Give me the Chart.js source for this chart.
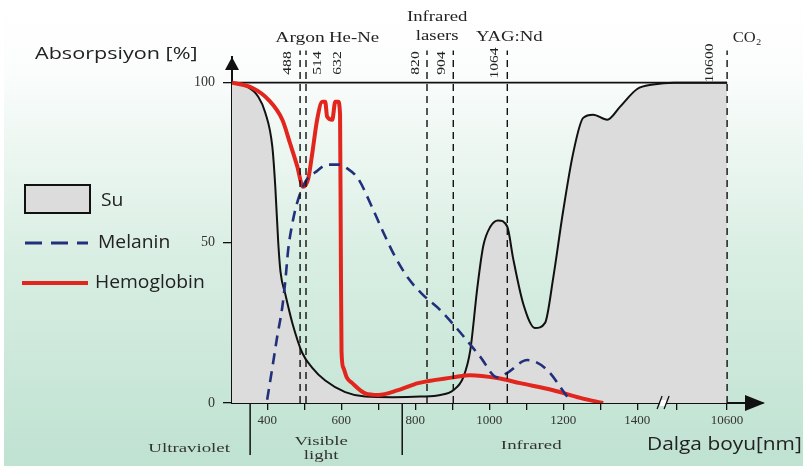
<!DOCTYPE html>
<html>
<head>
<meta charset="utf-8">
<script src="https://cdn.jsdelivr.net/npm/chart.js@4"></script>
<style>
  html, body { margin: 0; padding: 0; background: #fff; }
  #kutu { width: 803px; height: 473px; }
</style>
</head>
<body>
<div id="kutu"><canvas id="absorpsiyon"></canvas></div>
<script>
// dalga boyu [nm] / absorpsiyon [%]
const suNm = [305, 341, 376, 395, 414, 422, 430, 436, 449, 468, 495, 522, 557, 611, 665, 740, 814, 868, 903, 930, 949, 968, 984, 1003, 1024, 1049, 1065, 1092, 1124, 1151, 1173, 1200, 1227, 1254, 1281, 1319, 1354, 1400, 1443, 1500, 10600];
const suAbs = [100, 99, 95.6, 90.6, 80, 67.5, 50, 41, 34, 25, 15.6, 11, 7, 3.4, 2, 1.8, 2, 2.5, 4, 8, 16.5, 36, 49, 55, 57, 55, 45, 31, 23.4, 25, 39, 60, 78, 89, 90, 88.4, 92.5, 98, 99.4, 100, 100];

const melaninNm = [400, 414, 427, 441, 449, 457, 468, 481, 503, 530, 565, 592, 619, 646, 684, 711, 746, 781, 819, 868, 922, 976, 1022, 1049, 1103, 1157, 1211, 1219];
const melaninAbs = [1, 11, 20.6, 30, 38, 48, 56, 62.5, 69, 72, 74.4, 74.4, 73, 70, 61, 54, 45.6, 39, 34, 29, 22, 14.4, 8, 9.4, 13.4, 10.3, 2, 1];

const hemoglobinNm = [305, 359, 403, 441, 462, 481, 497, 511, 522, 535, 549, 557, 562, 576, 584, 592, 597, 599, 601, 606, 615, 630, 665, 700, 754, 808, 903, 949, 1022, 1084, 1173, 1246, 1308];
const hemoglobinAbs = [100, 98.4, 94.7, 88.4, 81, 74, 67.5, 70, 78, 88.4, 94, 94, 89.4, 88.4, 94, 94, 90, 50, 16, 11, 8, 6.2, 3, 2.5, 4, 6.2, 8, 8.7, 7.8, 6.2, 4, 1.6, 0];

const xTicks = [400, 500, 600, 700, 800, 900, 1000, 1100, 1200, 1300, 1400, 2000, 10600];
const xTickLabels = ["400", "", "600", "", "800", "", "1000", "", "1200", "", "1400", "", "10600"];
const yTicks = [0, 50, 100];

// lazer cizgileri (resimdeki yerleri) ve etiketleri
const laserNm = [489, 505, 832, 903, 1049, 10600];
const laserLabels = ["488", "514", "632", "820", "904", "1064", "10600"];
const regionBounds = [354, 765];

// eksen kirilmasi: 1500 nm sonrasi sikistirilir
const BREAK = 1500, SQUEEZE = 143 / 9100;
function axisX(nm) { return nm <= BREAK ? nm : BREAK + (nm - BREAK) * SQUEEZE; }
function pts(xs, ys) { return xs.map((x, i) => ({ x: axisX(x), y: ys[i] })); }

const serif = '"Liberation Serif", "DejaVu Serif", serif';
const sans = '"Open Sans", "Noto Sans", sans-serif';

// yazilar resimde yatay olarak biraz genis
function genisYaz(ctx, t, x, y, sx) {
    ctx.save();
    ctx.translate(x, y);
    ctx.scale(sx, 1);
    ctx.fillText(t, 0, 0);
    ctx.restore();
}

const arkaPlan = {
    id: "arkaPlan",
    beforeDraw(chart) {
        const ctx = chart.ctx;
        const g = ctx.createLinearGradient(0, 0, 0, 466);
        g.addColorStop(0, "#ffffff");
        g.addColorStop(0.15, "#fbfdfc");
        g.addColorStop(0.55, "#d9eee3");
        g.addColorStop(1, "#bfe2d1");
        ctx.save();
        ctx.fillStyle = "#ffffff";
        ctx.fillRect(0, 0, chart.width, chart.height);
        ctx.fillStyle = g;
        ctx.fillRect(4, 0, chart.width - 4, 466);
        ctx.restore();
    },
};

const suesler = {
    id: "suesler",
    afterDraw(chart) {
        const ctx = chart.ctx;
        const xs = chart.scales.x, a = chart.chartArea;
        const px = (nm) => xs.getPixelForValue(axisX(nm));
        ctx.save();
        ctx.fillStyle = "#111";
        ctx.strokeStyle = "#111";

        // eksen oklari
        ctx.beginPath();
        ctx.moveTo(a.left, a.top);
        ctx.lineTo(a.left - 7, a.top + 13);
        ctx.lineTo(a.left + 7, a.top + 13);
        ctx.closePath();
        ctx.fill();
        ctx.beginPath();
        ctx.moveTo(a.right + 2, a.bottom);
        ctx.lineTo(a.right - 18, a.bottom - 8);
        ctx.lineTo(a.right - 18, a.bottom + 8);
        ctx.closePath();
        ctx.fill();

        // kirilma isareti
        const bx = px(1470);
        ctx.fillStyle = "#ffffff";
        ctx.fillRect(bx - 3, a.bottom - 3, 6, 6);
        ctx.lineWidth = 1.3;
        ctx.beginPath();
        ctx.moveTo(bx - 6, a.bottom + 6); ctx.lineTo(bx - 1, a.bottom - 7);
        ctx.moveTo(bx + 1, a.bottom + 6); ctx.lineTo(bx + 6, a.bottom - 7);
        ctx.stroke();

        // bolge ayiraclari
        ctx.lineWidth = 1.5;
        regionBounds.forEach((nm) => {
            ctx.beginPath();
            ctx.moveTo(px(nm), a.bottom);
            ctx.lineTo(px(nm), a.bottom + 52);
            ctx.stroke();
        });

        ctx.fillStyle = "#333";
        ctx.textAlign = "center";
        ctx.textBaseline = "middle";
        ctx.font = "13px " + serif;
        genisYaz(ctx, "Ultraviolet", px(regionBounds[0]) - 61, 449, 1.45);
        genisYaz(ctx, "Visible", px(regionBounds[0]) + 71, 442, 1.45);
        genisYaz(ctx, "light", px(regionBounds[0]) + 71, 456, 1.45);
        genisYaz(ctx, "Infrared", px(regionBounds[1]) + 129, 446, 1.45);

        // lazer etiketleri
        ctx.fillStyle = "#222";
        ctx.font = "15px " + serif;
        const orta = (px(laserNm[2]) + px(laserNm[3])) / 2 - 3;
        genisYaz(ctx, "Argon", px(laserNm[0]), 38, 1.3);
        genisYaz(ctx, "He-Ne", px(laserNm[1]) + 48, 38, 1.25);
        genisYaz(ctx, "Infrared", orta, 17, 1.25);
        genisYaz(ctx, "lasers", orta, 36, 1.25);
        genisYaz(ctx, "YAG:Nd", px(laserNm[4]) + 2, 37, 1.25);
        genisYaz(ctx, "CO\u2082", px(laserNm[5]) + 20, 38, 1.1);

        const at = [px(laserNm[0]) - 13, px(laserNm[1]) + 12, px(laserNm[1]) + 32, px(laserNm[2]) - 11,
                    px(laserNm[3]) - 12, px(laserNm[4]) - 13, px(laserNm[5]) - 18];
        ctx.font = "13px " + serif;
        laserLabels.forEach((t, i) => {
            ctx.save();
            ctx.translate(at[i], 63);
            ctx.rotate(-Math.PI / 2);
            genisYaz(ctx, t, 0, 0, 1.2);
            ctx.restore();
        });

        // eksen basliklari
        ctx.fillStyle = "#222";
        ctx.textAlign = "left";
        ctx.font = "17px " + sans;
        genisYaz(ctx, "Absorpsiyon [%]", 35, 54, 1.27);
        ctx.font = "18px " + sans;
        genisYaz(ctx, "Dalga boyu[nm]", 647, 445, 1.16);

        // lejant
        const [su, melanin, hemo] = ["Su", "Melanin", "Hemoglobin"].map((l) => chart.data.datasets.find((d) => d.label === l));
        ctx.fillStyle = su.backgroundColor;
        ctx.fillRect(25, 185, 65, 28);
        ctx.lineWidth = 2;
        ctx.strokeStyle = su.borderColor;
        ctx.strokeRect(25, 185, 65, 28);

        ctx.strokeStyle = melanin.borderColor;
        ctx.lineWidth = 3;
        ctx.setLineDash([17, 9]);
        ctx.beginPath(); ctx.moveTo(25, 243); ctx.lineTo(88, 243); ctx.stroke();
        ctx.setLineDash([]);

        ctx.strokeStyle = hemo.borderColor;
        ctx.lineWidth = 4;
        ctx.beginPath(); ctx.moveTo(22, 283); ctx.lineTo(88, 283); ctx.stroke();

        ctx.fillStyle = "#222";
        ctx.font = "18px " + sans;
        genisYaz(ctx, su.label, 101, 201, 1.07);
        genisYaz(ctx, melanin.label, 98, 243, 1.07);
        genisYaz(ctx, hemo.label, 95, 283, 1.07);
        ctx.restore();
    },
};

const lazerCizgileri = laserNm.map((nm) => ({
    label: "lazer " + nm,
    data: [{ x: axisX(nm), y: 0 }, { x: axisX(nm), y: 110 }],
    borderColor: "#111",
    borderWidth: 1.4,
    borderDash: [7, 5],
    pointRadius: 0,
    fill: false,
    clip: false,
    order: 1,
}));

new Chart(document.getElementById("absorpsiyon"), {
    type: "line",
    data: {
        datasets: [
            ...lazerCizgileri,
            {
                label: "Melanin",
                data: pts(melaninNm, melaninAbs),
                borderColor: "#22307c",
                borderWidth: 2.6,
                borderDash: [11, 7],
                pointRadius: 0,
                cubicInterpolationMode: "monotone",
                fill: false,
                order: 2,
            },
            {
                label: "Hemoglobin",
                data: pts(hemoglobinNm, hemoglobinAbs),
                borderColor: "#e3261d",
                borderWidth: 4,
                pointRadius: 0,
                cubicInterpolationMode: "monotone",
                fill: false,
                order: 3,
            },
            {
                label: "cerceve",
                data: [{ x: 305, y: 100 }, { x: axisX(10600), y: 100 }],
                borderColor: "#111",
                borderWidth: 1.8,
                pointRadius: 0,
                fill: false,
                order: 4,
            },
            {
                label: "Su",
                data: pts(suNm, suAbs),
                borderColor: "#111",
                backgroundColor: "#dcdcdc",
                borderWidth: 2,
                pointRadius: 0,
                cubicInterpolationMode: "monotone",
                fill: "origin",
                order: 5,
            },
        ],
    },
    options: {
        responsive: true,
        maintainAspectRatio: false,
        animation: false,
        events: [],
        layout: { padding: { left: 180, top: 57, right: 40, bottom: 0 } },
        plugins: { legend: { display: false }, tooltip: { enabled: false } },
        scales: {
            x: {
                type: "linear",
                min: 305,
                max: 1740,
                afterFit: (s) => { s.height = 70; },
                afterBuildTicks: (s) => { s.ticks = xTicks.map((v) => ({ value: axisX(v) })); },
                border: { color: "#111", width: 2 },
                grid: { drawOnChartArea: false, tickLength: 7, color: "#111", lineWidth: 1.3 },
                ticks: {
                    autoSkip: false,
                    maxRotation: 0,
                    padding: 3,
                    color: "#333",
                    font: { family: serif, size: 13 },
                    callback: (value) => {
                        const i = xTicks.findIndex((v) => Math.abs(axisX(v) - value) < 0.01);
                        return i < 0 ? "" : xTickLabels[i];
                    },
                },
            },
            y: {
                type: "linear",
                min: 0,
                max: 108,
                afterFit: (s) => { s.width = 52; },
                afterBuildTicks: (s) => { s.ticks = yTicks.map((v) => ({ value: v })); },
                border: { color: "#111", width: 2 },
                grid: { drawOnChartArea: false, tickLength: 9, color: "#111", lineWidth: 1.3 },
                ticks: { padding: 8, color: "#333", font: { family: serif, size: 14 } },
            },
        },
    },
    plugins: [arkaPlan, suesler],
});
</script>
</body>
</html>
